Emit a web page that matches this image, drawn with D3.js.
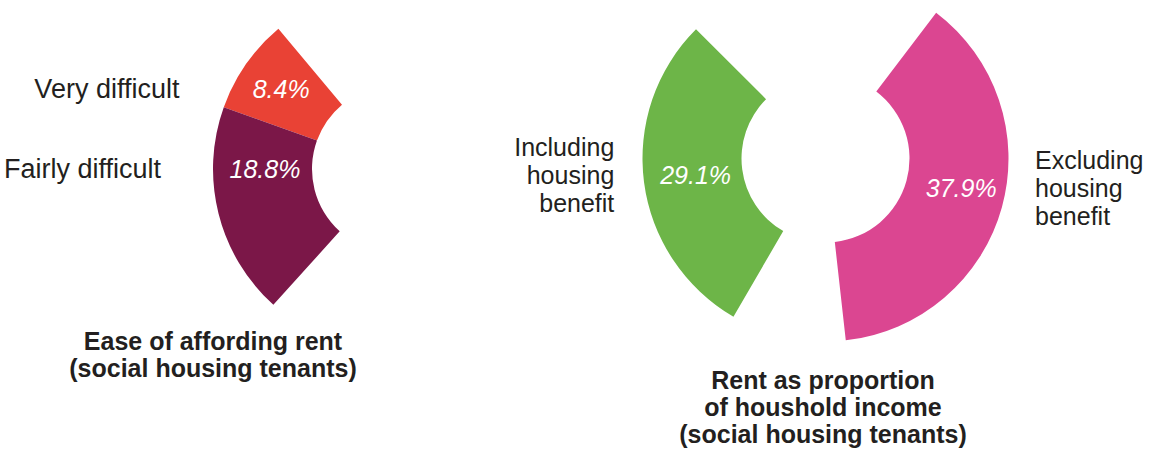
<!DOCTYPE html>
<html>
<head>
<meta charset="utf-8">
<script src="https://d3js.org/d3.v7.min.js"></script>
<style>
    body { margin: 0; background: #ffffff; }
    svg { display: block; }
    text { font-family: "Liberation Sans", Arial, sans-serif; }
</style>
</head>
<body>
<script>
// == chart data ==
var affordCategories = ["Very difficult", "Fairly difficult"];
var affordValues = [8.4, 18.8];
var affordTitle = ["Ease of affording rent", "(social housing tenants)"];

var rentCategories = ["Including housing benefit", "Excluding housing benefit"];
var rentValues = [29.1, 37.9];
var rentTitle = ["Rent as proportion", "of houshold income", "(social housing tenants)"];

var svgWidth = 1157;
var svgHeight = 450;
var innerRadius = 84;
var outerRadius = 183;
var deg = Math.PI / 180;

var svg = d3.select("body")
    .append("svg")
    .attr("width", svgWidth)
    .attr("height", svgHeight);

// 100% = full turn
var angleScale = d3.scaleLinear()
    .domain([0, 100])
    .range([0, 2 * Math.PI]);

var arc = d3.arc()
    .innerRadius(innerRadius)
    .outerRadius(outerRadius);

// left chart: slices stacked back (anticlockwise) from 320deg
var affordSlices = [];
var endAngle = 320 * deg;
affordValues.forEach(function (v, i) {
    var startAngle = endAngle - angleScale(v);
    affordSlices.push({
        category: affordCategories[i],
        value: v,
        startAngle: startAngle,
        endAngle: endAngle,
        color: ["#e94235", "#7b1748"][i],
        // second label sits level with its category text
        labelAngle: i == 1 ? 270 * deg : (startAngle + endAngle) / 2,
        labelRadius: i == 1 ? 131 : 140
    });
    endAngle = startAngle;
});

// right chart: each slice turned on its own
var rentStarts = [210.2 * deg, 37.2 * deg];
var rentSlices = rentValues.map(function (v, i) {
    var startAngle = rentStarts[i];
    return {
        category: rentCategories[i],
        value: v,
        startAngle: startAngle,
        endAngle: startAngle + angleScale(v),
        color: ["#6db548", "#db4691"][i],
        labelAngle: startAngle + angleScale(v) / 2 - (i == 1 ? 3 * deg : 0),
        labelRadius: i == 1 ? 139 : 131
    };
});

function drawDonut(slices, cx, cy, labelGap, wrapLabels, catSize, lineGap, title, titleX, titleY) {
    var g = svg.append("g")
        .attr("transform", `translate(${cx},${cy})`);

    g.selectAll("path")
        .data(slices)
        .enter()
        .append("path")
        .attr("d", arc)
        .attr("fill", d => d.color);

    //== value labels ==
    slices.forEach(function (d) {
        d.lx = Math.sin(d.labelAngle) * d.labelRadius;
        d.ly = -Math.cos(d.labelAngle) * d.labelRadius;
    });

    g.selectAll(".value-label")
        .data(slices)
        .enter()
        .append("text")
        .classed("value-label", true)
        .attr("x", d => d.lx)
        .attr("y", d => d.ly)
        .attr("dy", "0.35em")
        .attr("text-anchor", "middle")
        .attr("font-size", 25)
        .attr("font-style", "italic")
        .attr("fill", "#ffffff")
        .text(d => d.value + "%");

    //== category labels, just outside the outer edge ==
    var catLabels = g.selectAll(".cat-label")
        .data(slices)
        .enter()
        .append("text")
        .classed("cat-label", true)
        .attr("font-size", catSize)
        .attr("fill", "#231f20")
        .attr("text-anchor", d => d.lx < 0 ? "end" : "start")
        .attr("transform", function (d) {
            var edge = Math.sqrt(outerRadius * outerRadius - d.ly * d.ly);
            var x = d.lx < 0 ? -edge - labelGap : edge + labelGap;
            return `translate(${x},${d.ly})`;
        });

    catLabels.each(function (d) {
        var lines = wrapLabels ? d.category.split(" ") : [d.category];
        var sel = d3.select(this);
        lines.forEach(function (line, j) {
            sel.append("tspan")
                .attr("x", 0)
                .attr("y", (j - (lines.length - 1) / 2) * lineGap)
                .attr("dy", "0.35em")
                .text(line);
        });
    });

    //== title ==
    var titleText = svg.append("text")
        .attr("text-anchor", "middle")
        .attr("font-size", 25)
        .attr("font-weight", "bold")
        .attr("fill", "#231f20");

    title.forEach(function (line, j) {
        titleText.append("tspan")
            .attr("x", titleX)
            .attr("y", titleY + j * 27)
            .text(line);
    });
}

drawDonut(affordSlices, 396, 169, 52, false, 27, 0, affordTitle, 213, 350);
drawDonut(rentSlices, 825.5, 158.5, 29, true, 25, 28, rentTitle, 823, 389);
</script>
</body>
</html>
